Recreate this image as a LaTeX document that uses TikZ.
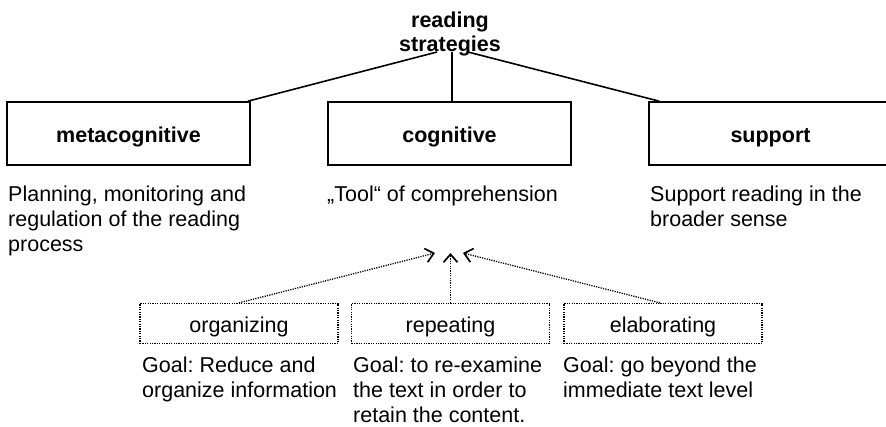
\documentclass[tikz,border=0pt]{standalone}
\usepackage{fontspec}
\setmainfont{Liberation Sans}
\usetikzlibrary{arrows.meta}
\frenchspacing
\begin{document}
\begin{tikzpicture}[x=1pt,y=-1pt,
  txt/.style={font=\fontsize{21.5}{25}\selectfont\frenchspacing, inner sep=0pt},
  desc/.style={txt, align=left, anchor=base west},
  catbox/.style={draw, line width=1.6pt, minimum width=243pt, minimum height=63pt,
    inner sep=0pt, text height=20pt, text depth=3pt,
    font=\fontsize{21.5}{25}\selectfont\bfseries},
  subbox/.style={draw, line width=1.3pt, dash pattern=on 1.2pt off 1.2pt,
    minimum width=198pt, minimum height=40pt, inner sep=0pt,
    text height=20pt, text depth=3pt, font=\fontsize{21.5}{25}\selectfont},
  link/.style={line width=1.6pt},
  dlink/.style={line width=1.3pt, dash pattern=on 1.2pt off 1.2pt,
    -{Straight Barb[length=8pt,width=14pt,line width=1.7pt]}}
]
\useasboundingbox (0,0) rectangle (886,426);
\clip (0,0) rectangle (886,426);

% title (base anchor = baseline of last line)
\node[txt, font=\fontsize{21.5}{24}\selectfont\bfseries, align=center, anchor=base]
  (title) at (450,51) {reading\\strategies};
\coordinate (tl) at (437,52);
\coordinate (tm) at (452,52);
\coordinate (tr) at (468,52);

% category boxes
\node[catbox] (meta) at (128.5,133.5) {metacognitive};
\node[catbox] (cog) at (449.5,133.5) {cognitive};
\node[catbox] (sup) at (770.5,133.5) {support};

\draw[link] (tl) -- ([xshift=-3pt]meta.north east);
\draw[link] (tm) -- (tm |- cog.north);
\draw[link] (tr) -- ([xshift=11pt]sup.north west);

% descriptions (positioned at baseline of last line)
\node[desc] (metad) at (8,251) {Planning, monitoring and\\regulation of the reading\\process};
\node[desc] (cogd) at (327,201) {„Tool“ of comprehension};
\node[desc] (supd) at (650,226) {Support reading in the\\broader sense};

% sub boxes
\node[subbox] (org) at (239,323.5) {organizing};
\node[subbox] (rep) at (450.5,323.5) {repeating};
\node[subbox] (elab) at (663,323.5) {elaborating};

\coordinate (aL) at (435,253);
\coordinate (aM) at (450.5,253);
\coordinate (aR) at (463,253);
\draw[dlink] (org.north) -- (aL);
\draw[dlink] (rep.north) -- (aM);
\draw[dlink] ([xshift=-3pt]elab.north) -- (aR);

% goals
\node[desc] (orgg) at (142,397) {Goal: Reduce and\\organize information};
\node[desc] (repg) at (353,422) {Goal: to re-examine\\the text in order to\\retain the content.};
\node[desc] (elabg) at (563,397) {Goal: go beyond the\\immediate text level};
\end{tikzpicture}
\end{document}
